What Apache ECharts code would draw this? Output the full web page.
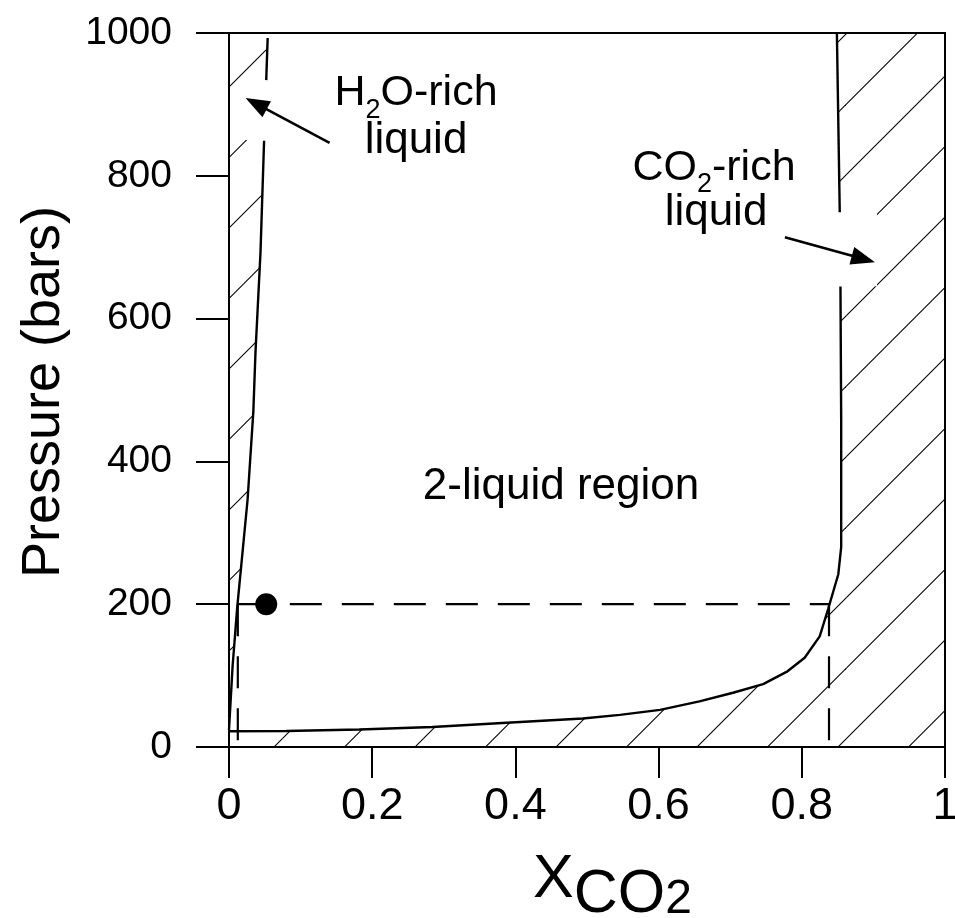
<!DOCTYPE html>
<html><head><meta charset="utf-8">
<script src="https://cdn.jsdelivr.net/npm/echarts@6/dist/echarts.min.js"></script>
<style>html,body{margin:0;padding:0;background:#fff}#c{width:955px;height:918px}</style>
</head><body><div id="c"></div>
<script>
// ---------- data (x = mole fraction CO2, y = pressure in bars) ----------
const xTickValues = [0, 0.2, 0.4, 0.6, 0.8, 1];
const yTickValues = [0, 200, 400, 600, 800, 1000];
// H2O-rich liquid boundary (broken where the arrow passes)
const h2oCurveLower = [[0.000,24],[0.005,113],[0.0115,196],[0.017,253],[0.026,347],[0.034,470],[0.037,553],[0.044,693],[0.049,849]];
const h2oCurveUpper = [[0.052,934],[0.054,993]];
// CO2-rich liquid boundary (broken where the arrow passes)
const co2CurveLower = [[0.000,22],[0.080,22.5],[0.182,24.5],[0.284,28],[0.388,34],[0.494,40],[0.546,45],[0.602,52],[0.657,64],[0.704,76],[0.746,88],[0.780,106],[0.804,125],[0.825,155],[0.837,194],[0.851,242],[0.855,280],[0.855,460],[0.854,645]];
const co2CurveUpper = [[0.853,749],[0.849,1000]];
// bulk composition point and tie line
const samplePoint = [[0.052,200]];
const tieLine = [[0.0123,200],[0.838,200]];
const dropLeft = [[0.0123,200],[0.0123,0]];
const dropRight = [[0.838,200],[0.838,0]];
// annotation arrows [tail, tip]
const arrowH2O = [[0.1405,846],[0.0231,909]];
const arrowCO2 = [[0.7764,714],[0.9022,679]];

// ---------- regions (single-phase fields, hatched) ----------
const leftRegion = [[0,24]].concat(h2oCurveLower.slice(1), h2oCurveUpper, [[h2oCurveUpper[h2oCurveUpper.length-1][0],1000],[0,1000]]);
const rightRegion = [[0,0]].concat(co2CurveLower, co2CurveUpper, [[1,1000],[1,0]]);

const FONT = "'Liberation Sans', Arial, Helvetica, sans-serif";

// hatch pattern (45 degree lines)
const T = 141;
const pc = document.createElement('canvas'); pc.width = T; pc.height = T;
const pg = pc.getContext('2d');
pg.strokeStyle = '#000'; pg.lineWidth = 1.1;
for (let k = -2; k <= 5; k++) {
  const c = 34 + k * 70.5;
  pg.beginPath(); pg.moveTo(c + 10, -10); pg.lineTo(-10, c + 10); pg.stroke();
}
const hatchPattern = { image: pc, repeat: 'repeat' };

function hatchSeries(poly) {
  return {
    type: 'custom', coordinateSystem: 'cartesian2d', data: [[0,0]], silent: true, z: 1, clip: true,
    renderItem: function (params, api) {
      return { type: 'polygon', shape: { points: poly.map(p => api.coord(p)) },
        style: { fill: hatchPattern, stroke: null } };
    }
  };
}
function maskSeries(pts, pad) {
  return {
    type: 'custom', coordinateSystem: 'cartesian2d', data: [[0,0]], silent: true, z: 2, clip: true,
    renderItem: function (params, api) {
      const a = api.coord(pts[0]), b = api.coord(pts[1]);
      const x0 = Math.min(a[0], b[0]) - pad[3], x1 = Math.max(a[0], b[0]) + pad[1];
      const y0 = Math.min(a[1], b[1]) - pad[0], y1 = Math.max(a[1], b[1]) + pad[2];
      return { type: 'rect', shape: { x: x0, y: y0, width: x1 - x0, height: y1 - y0 }, style: { fill: '#fff' } };
    }
  };
}
function arrowSeries(pts) {
  return {
    type: 'custom', coordinateSystem: 'cartesian2d', data: [[0,0]], silent: true, z: 6, clip: false,
    renderItem: function (params, api) {
      const a = api.coord(pts[0]), b = api.coord(pts[1]);
      const dx = b[0] - a[0], dy = b[1] - a[1], L = Math.hypot(dx, dy), ux = dx / L, uy = dy / L;
      const hl = 24, hw = 9;
      const base = [b[0] - ux * hl, b[1] - uy * hl];
      return { type: 'group', children: [
        { type: 'line', shape: { x1: a[0], y1: a[1], x2: base[0] + ux * 2, y2: base[1] + uy * 2 }, style: { stroke: '#000', lineWidth: 2.5 } },
        { type: 'polygon', shape: { points: [b, [base[0] - uy * hw, base[1] + ux * hw], [base[0] + uy * hw, base[1] - ux * hw]] }, style: { fill: '#000' } }
      ]};
    }
  };
}
function curve(d) {
  return { type: 'line', data: d, symbol: 'none', silent: true, z: 4, lineStyle: { color: '#000', width: 2.4 } };
}
function dashed(d) {
  return { type: 'line', data: d, symbol: 'none', silent: true, z: 4, lineStyle: { color: '#000', width: 2.2, type: [32, 20] } };
}

// text helpers
const mctx = document.createElement('canvas').getContext('2d');
function tw(t, size) { mctx.font = size + 'px ' + FONT; return mctx.measureText(t).width; }
function textRun(pieces, x, cy, centered) {
  const total = pieces.reduce((s, p) => s + tw(p[0], p[1]), 0);
  let cx = centered ? x - total / 2 : x;
  const out = [];
  pieces.forEach(p => {
    out.push({ type: 'text', x: cx, y: cy + (p[2] || 0), silent: true,
      style: { text: p[0], font: p[1] + 'px ' + FONT, fill: '#000', align: 'left', verticalAlign: 'middle' } });
    cx += tw(p[0], p[1]);
  });
  return out;
}

const graphics = [].concat(
  textRun([['H', 43], ['2', 27, 18], ['O-rich', 43]], 416, 93, true),
  textRun([['liquid', 44]], 416, 141, true),
  textRun([['CO', 43], ['2', 27, 17], ['-rich', 43]], 714, 168, true),
  textRun([['liquid', 44]], 716, 213, true),
  textRun([['2-liquid region', 44]], 561, 487, true),
  textRun([['X', 61], ['CO', 61, 15], ['2', 48, 20]], 533, 880, false),
  [{ type: 'text', x: 44, y: 392, rotation: Math.PI / 2, silent: true,
     style: { text: 'Pressure (bars)', font: '54px ' + FONT, fill: '#000', align: 'center', verticalAlign: 'middle' } }]
);

const chart = echarts.init(document.getElementById('c'), null, { renderer: 'canvas' });
chart.setOption({
  animation: false,
  backgroundColor: '#fff',
  grid: { left: 229, right: 10, top: 33, bottom: 171, outerBoundsMode: 'none', containLabel: false,
    show: true, borderColor: '#000', borderWidth: 2, backgroundColor: 'transparent' },
  xAxis: {
    type: 'value', min: xTickValues[0], max: xTickValues[xTickValues.length - 1], interval: 0.2,
    axisLine: { show: true, onZero: false, lineStyle: { color: '#000', width: 2 } },
    axisTick: { show: true, length: 31, lineStyle: { color: '#000', width: 2 } },
    splitLine: { show: false },
    axisLabel: { margin: 37, color: '#000', fontSize: 45, fontFamily: FONT,
      formatter: v => String(+(+v).toFixed(1)) }
  },
  yAxis: {
    type: 'value', min: yTickValues[0], max: yTickValues[yTickValues.length - 1], interval: 200,
    axisLine: { show: true, onZero: false, lineStyle: { color: '#000', width: 2 } },
    axisTick: { show: true, length: 33, lineStyle: { color: '#000', width: 2 } },
    splitLine: { show: false },
    axisLabel: { margin: 57, color: '#000', fontSize: 39, fontFamily: FONT, formatter: v => String(v) }
  },
  series: [
    hatchSeries(leftRegion),
    hatchSeries(rightRegion),
    maskSeries(arrowH2O, [18, 0, -3, 0]),
    maskSeries(arrowCO2, [25, 2, 24, 0]),
    curve(h2oCurveLower), curve(h2oCurveUpper),
    curve(co2CurveLower), curve(co2CurveUpper),
    dashed(tieLine), dashed(dropLeft), dashed(dropRight),
    { type: 'scatter', data: samplePoint, symbol: 'circle', symbolSize: 22, silent: true, z: 7, itemStyle: { color: '#000', opacity: 1 } },
    arrowSeries(arrowH2O), arrowSeries(arrowCO2)
  ],
  graphic: graphics
});
</script></body></html>
